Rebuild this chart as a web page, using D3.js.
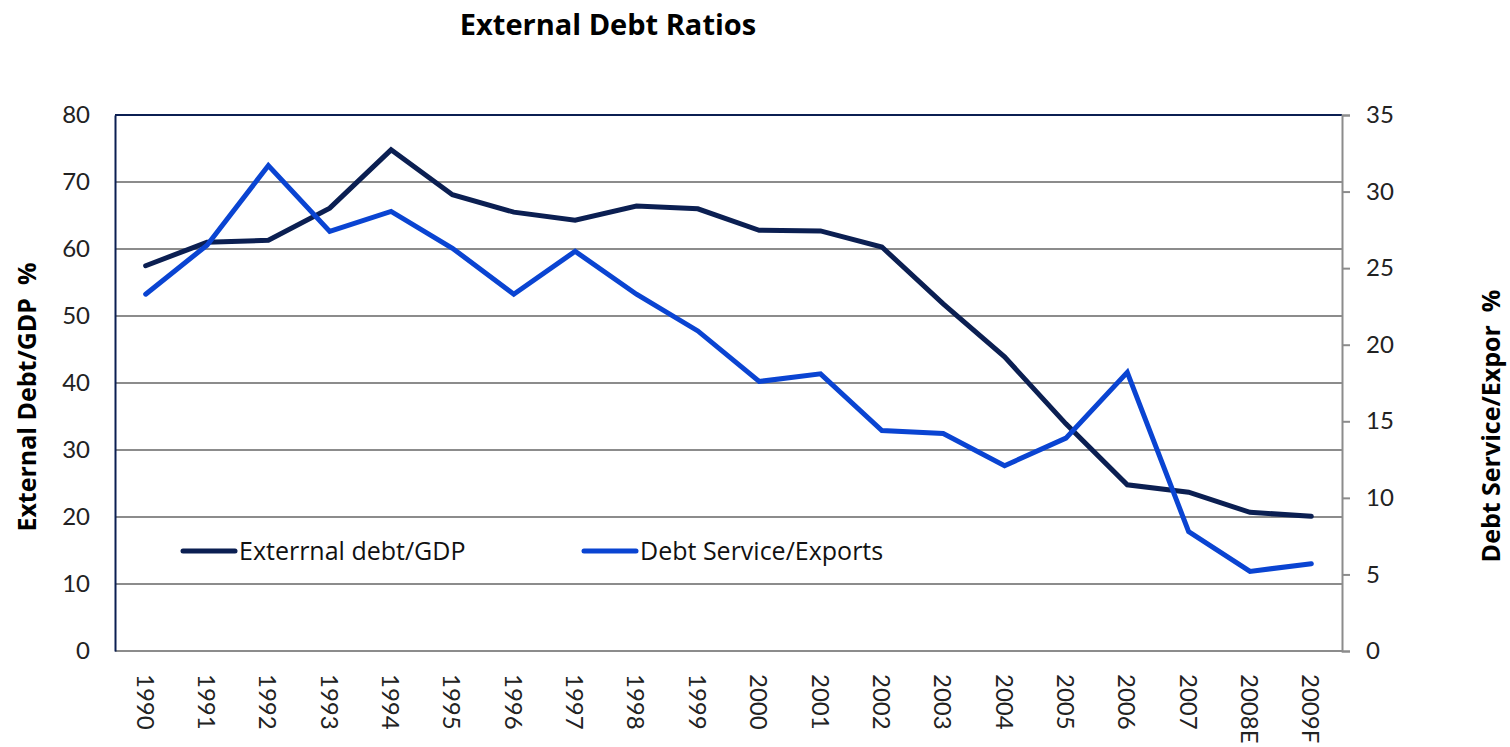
<!DOCTYPE html>
<html>
<head>
<meta charset="utf-8">
<script src="https://cdn.jsdelivr.net/npm/d3@7"></script>
<style>
  body { margin: 0; background: #fff; }
  svg text { font-family: "Open Sans", sans-serif; white-space: pre; }
</style>
</head>
<body>
<svg id="svg1" width="1510" height="747"></svg>
<script>
var years = ["1990","1991","1992","1993","1994","1995","1996","1997","1998","1999",
             "2000","2001","2002","2003","2004","2005","2006","2007","2008E","2009F"];
var debtGdp = [57.5, 61.0, 61.3, 66.1, 74.8, 68.1, 65.5, 64.3, 66.4, 66.0,
               62.8, 62.7, 60.3, 51.8, 43.9, 33.9, 24.8, 23.7, 20.7, 20.1];
var debtService = [23.3, 26.5, 31.7, 27.4, 28.7, 26.3, 23.3, 26.1, 23.3, 20.9,
                   17.6, 18.1, 14.4, 14.2, 12.1, 13.9, 18.2, 7.8, 5.2, 5.7];
var leftTicks = [0, 10, 20, 30, 40, 50, 60, 70, 80];
var rightTicks = [0, 5, 10, 15, 20, 25, 30, 35];

var marginLeft = 115;
var marginTop = 115;
var plotW = 1227;
var plotH = 536;

var navy = '#0b1f52';
var blue = '#0a44d2';
var tickFont = 'Lato, "Open Sans", sans-serif';

var scaleX = d3.scaleBand().domain(years).range([0, plotW]);
var scaleY = d3.scaleLinear().domain([0, 80]).range([plotH, 0]);
var scaleY2 = d3.scaleLinear().domain([0, 35]).range([plotH, 0]);

var svg = d3.select('#svg1');
var g = svg.append('g')
    .attr('transform', 'translate(' + marginLeft + ',' + marginTop + ')');

// title
svg.append('text')
    .text('External Debt Ratios')
    .attr('x', 608).attr('y', 35)
    .style('text-anchor', 'middle')
    .style('font-size', '29px')
    .style('font-weight', 'bold');

// gridlines
g.selectAll('.grid')
    .data(leftTicks.filter(function(d){ return d > 0 && d < 80; }))
    .enter().append('line')
    .attr('x1', 0).attr('x2', plotW)
    .attr('y1', function(d){ return scaleY(d); })
    .attr('y2', function(d){ return scaleY(d); })
    .attr('stroke', '#8c8c8c').attr('stroke-width', 2);

// bottom axis line
g.append('line')
    .attr('x1', 0).attr('x2', plotW).attr('y1', plotH).attr('y2', plotH)
    .attr('stroke', '#8c8c8c').attr('stroke-width', 2);

// top border
g.append('line')
    .attr('x1', 0).attr('x2', plotW).attr('y1', 0).attr('y2', 0)
    .attr('stroke', navy).attr('stroke-width', 2);

// left axis
var yAxis = g.append('g')
    .call(d3.axisLeft(scaleY).tickValues(leftTicks).tickSize(0).tickPadding(25));
yAxis.select('.domain').attr('stroke', navy).attr('stroke-width', 2);
yAxis.selectAll('text').style('font-size', '24px').style('font-family', tickFont).attr('fill', '#222');

// right axis
var yAxis2 = g.append('g')
    .attr('transform', 'translate(' + plotW + ',0)')
    .call(d3.axisRight(scaleY2).tickValues(rightTicks).tickSize(8).tickPadding(16));
yAxis2.select('.domain').attr('stroke', '#8c8c8c').attr('stroke-width', 2);
yAxis2.selectAll('line').attr('stroke', '#8c8c8c').attr('stroke-width', 2);
yAxis2.selectAll('text').style('font-size', '24px').style('font-family', tickFont).attr('fill', '#222');

// x labels
g.selectAll('.xlab')
    .data(years)
    .enter().append('text')
    .text(function(d){ return d; })
    .attr('transform', function(d){
        return 'translate(' + (scaleX(d) + scaleX.bandwidth() / 2 - 9) + ',' + (plotH + 23) + ')rotate(90)';
    })
    .style('font-size', '24px')
    .style('font-family', tickFont)
    .attr('fill', '#222');

// lines
var makeLine = d3.line()
    .x(function(d, i){ return scaleX(years[i]) + scaleX.bandwidth() / 2; })
    .y(function(d){ return scaleY(d); });
var makeLine2 = d3.line()
    .x(function(d, i){ return scaleX(years[i]) + scaleX.bandwidth() / 2; })
    .y(function(d){ return scaleY2(d); });

g.append('path')
    .datum(debtGdp)
    .attr('d', makeLine)
    .attr('fill', 'none')
    .attr('stroke', navy)
    .attr('stroke-width', 5)
    .attr('stroke-linecap', 'round');

g.append('path')
    .datum(debtService)
    .attr('d', makeLine2)
    .attr('fill', 'none')
    .attr('stroke', blue)
    .attr('stroke-width', 5)
    .attr('stroke-linecap', 'round');

// legend
var legend = [
    {name: 'Exterrnal debt/GDP', color: navy, x: 183},
    {name: 'Debt Service/Exports', color: blue, x: 584}
];
legend.forEach(function(l){
    svg.append('line')
        .attr('x1', l.x).attr('x2', l.x + 52)
        .attr('y1', 551).attr('y2', 551)
        .attr('stroke', l.color).attr('stroke-width', 5)
        .attr('stroke-linecap', 'round');
    svg.append('text')
        .text(l.name)
        .attr('x', l.x + 56).attr('y', 560)
        .style('font-size', '25px')
        .attr('fill', '#111');
});

// axis titles
svg.append('text')
    .text('External Debt/GDP  %')
    .attr('transform', 'translate(36,397)rotate(-90)')
    .style('text-anchor', 'middle')
    .style('font-size', '25px')
    .style('font-weight', 'bold');

svg.append('text')
    .text('Debt Service/Expor  %')
    .attr('transform', 'translate(1500,426)rotate(-90)')
    .style('text-anchor', 'middle')
    .style('font-size', '25px')
    .style('font-weight', 'bold');
</script>
</body>
</html>
